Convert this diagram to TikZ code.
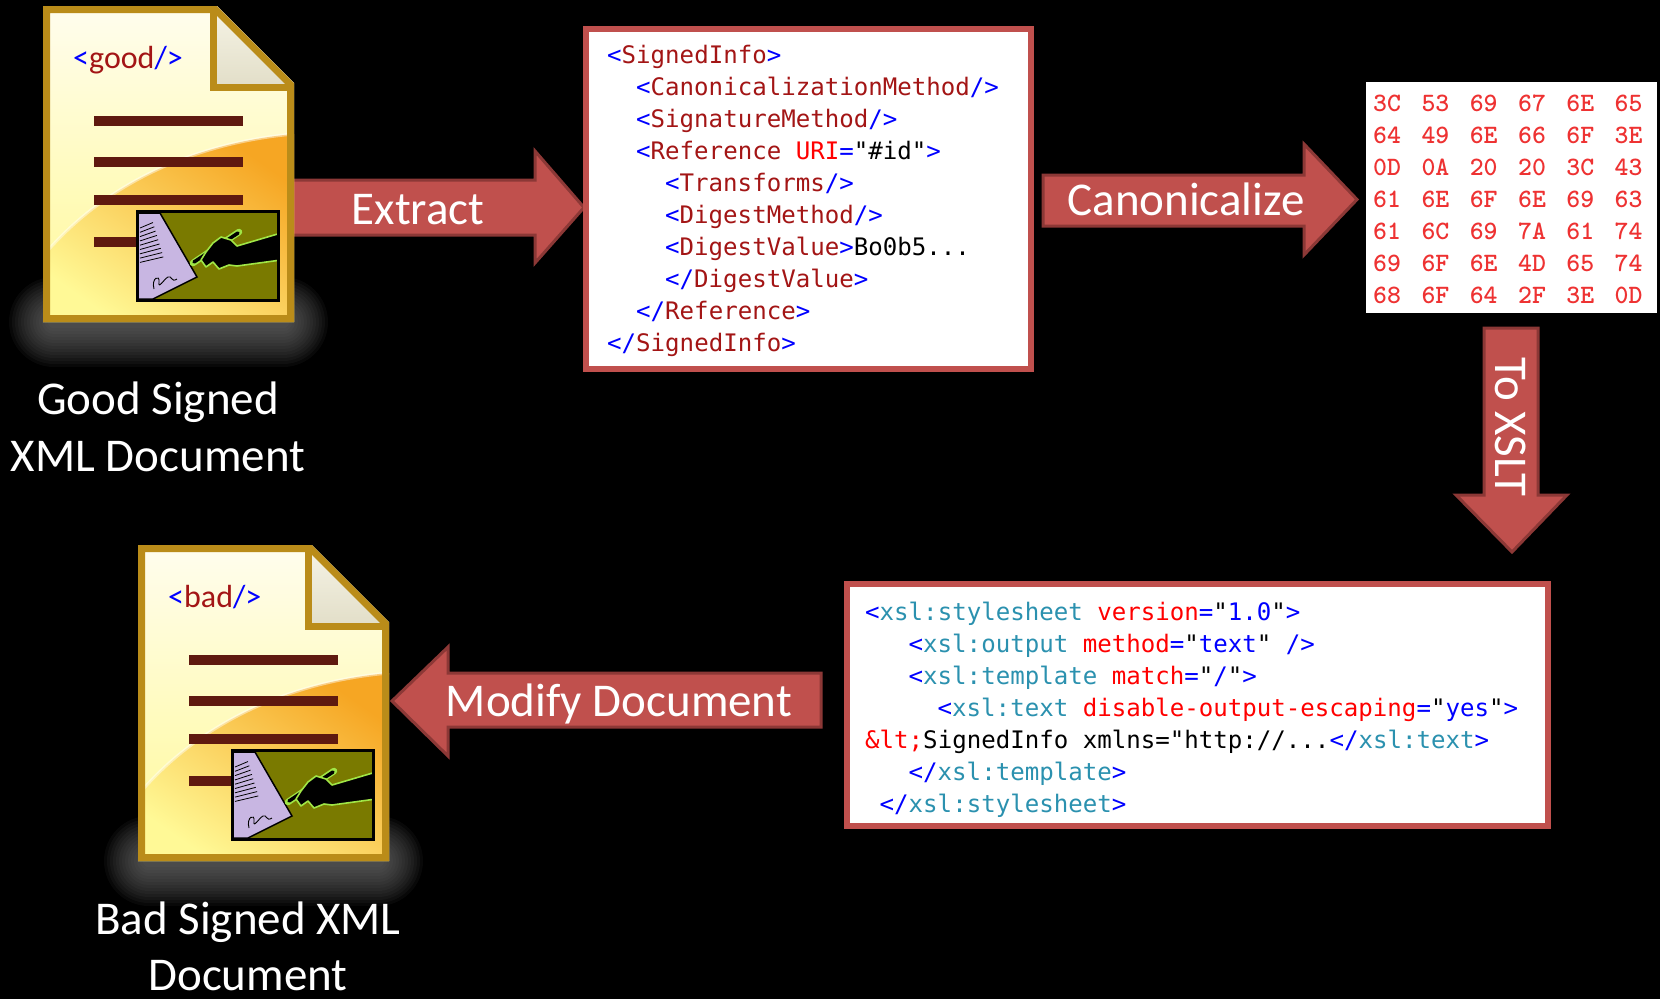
\documentclass[tikz,border=0pt]{standalone}
\usepackage{fontspec}
\setmainfont{Carlito}
\newfontfamily\codefont{DejaVu Sans Mono}[Ligatures=TeXOff]

\definecolor{arrowred}{RGB}{192,80,77}
\definecolor{arrowedge}{RGB}{140,56,54}
\definecolor{boxred}{RGB}{192,80,77}
\definecolor{docgold}{RGB}{186,140,25}
\definecolor{pagetop}{RGB}{255,253,238}
\definecolor{pagebot}{RGB}{255,249,150}
\definecolor{swoosh}{RGB}{246,166,35}
\definecolor{foldtop}{RGB}{246,244,230}
\definecolor{foldbot}{RGB}{226,222,200}
\definecolor{docline}{RGB}{95,25,15}
\definecolor{sigolive}{RGB}{122,122,0}
\definecolor{paperlav}{RGB}{200,182,226}
\definecolor{handgreen}{RGB}{160,230,70}
\definecolor{glow}{RGB}{125,125,125}
\definecolor{hexred}{RGB}{238,50,50}
\definecolor{mkblue}{RGB}{0,0,255}
\definecolor{elred}{RGB}{163,21,21}
\definecolor{atred}{RGB}{255,0,0}
\definecolor{xslteal}{RGB}{43,145,175}

% syntax colouring helpers
\newcommand\mkP[1]{\textcolor{mkblue}{#1}}
\newcommand\mkE[1]{\textcolor{elred}{#1}}
\newcommand\mkA[1]{\textcolor{atred}{#1}}
\newcommand\mkX[1]{\textcolor{xslteal}{#1}}
\newcommand\mkV[1]{\textcolor{mkblue}{#1}}

% soft glow under a document icon, built from stacked translucent layers
\newcommand\docglow[2]{%
\begin{scope}[shift={(#1,#2)}]
  \foreach \d in {0,3,...,39}
    \fill[glow, opacity=.07, rounded corners={\d+6}]
      ({5-\d},{310-\d}) rectangle ({246+\d},{322+\d});
\end{scope}
}

% yellow XML document icon with a signature picture
\newcommand\docicon[3]{%
\begin{scope}[shift={(#1,#2)}]
  \shade[top color=pagetop, bottom color=pagebot]
    (0,0) -- (174,0) -- (251,77) -- (251,316) -- (0,316) -- cycle;
  \begin{scope}
    \clip (0,0) -- (174,0) -- (251,77) -- (251,316) -- (0,316) -- cycle;
    \shade[top color=swoosh, bottom color=pagebot, shading angle=-35]
      (0,316) -- (0,250) .. controls (55,185) and (140,138) .. (251,128) -- (251,316) -- cycle;
    \draw[white, opacity=.45, line width=3]
      (0,250) .. controls (55,185) and (140,138) .. (251,128);
  \end{scope}
  \shade[top color=foldtop, bottom color=foldbot] (170,0) -- (251,81) -- (170,81) -- cycle;
  \draw[docgold, line width=7] (170,2) -- (170,81) -- (249,81);
  \draw[docgold, line width=7, line join=miter]
    (3.5,3.5) -- (172.5,3.5) -- (247.5,78.5) -- (247.5,312.5) -- (3.5,312.5) -- cycle;
  \foreach \yy in {115,156,194,236}
    \draw[docline, line width=10] (51,\yy) -- (200,\yy);
  \node[font=\fontsize{32}{38}\selectfont, anchor=base west, inner sep=0] (#3tag) at (30,62)
    {\textcolor{mkblue}{<}\textcolor{elred}{#3}\textcolor{mkblue}{/>}};
  % signature picture
  \begin{scope}
    \clip (94,205) rectangle (235,294);
    \fill[sigolive] (94,205) rectangle (235,294);
    \filldraw[fill=paperlav, draw=black, line width=1.5]
      (92,207) -- (117,207) -- (154,271) -- (110,293) -- (92,293) -- cycle;
    \foreach \k in {0,...,8}
      \draw[black, line width=.8] (97,{222+4.3*\k}) -- ({110+1.3*\k},{216.5+4.3*\k});
    \draw[black, line width=.9]
      (111,283) .. controls (108,272) and (117,268) .. (116,276)
      .. controls (115,284) and (121,273) .. (125,271)
      .. controls (129,269) and (128,277) .. (134,273);
    \draw[handgreen, line width=6.5, line cap=round] (150,257) -- (196,226);
    \draw[black, line width=3.5, line cap=round] (151,256) -- (195,227);
    \filldraw[fill=black, draw=handgreen, line width=1.6, line join=round]
      (238,227) -- (194,240) -- (188,234) -- (178,231) -- (170,237) -- (163,246)
      -- (158,254) -- (163,261) -- (170,256) -- (176,263) -- (186,259) -- (194,260)
      -- (238,254);
  \end{scope}
  \draw[black, line width=3] (94,205) rectangle (235,294);
\end{scope}
}

\tikzset{
  blockarrow/.style={fill=arrowred, draw=arrowedge, line width=3, line join=miter},
  codebox/.style={fill=white, draw=boxred, line width=6},
  code/.style={font={\codefont\fontsize{24.1}{29}\selectfont}, anchor=base west, inner sep=0},
  hex/.style={font={\ttfamily\bfseries\fontsize{26.5}{32}\selectfont}, text=hexred, anchor=base west, inner sep=0},
  doclabel/.style={font={\fontsize{47}{57}\selectfont}, text=white, anchor=base, inner sep=0},
  arrowlabel/.style={font={\fontsize{47}{57}\selectfont}, text=white, inner sep=0}
}

\begin{document}
\begin{tikzpicture}[x=1pt, y=-1pt]
  \useasboundingbox (0,0) rectangle (1660,999);
  \fill[black] (0,0) rectangle (1660,999);

  % glows under both documents
  \docglow{43}{6}
  \docglow{138}{545}

  % Extract arrow (runs behind the good document)
  \draw[blockarrow] (270,180) -- (535,180) -- (535,151) -- (584,207.5)
    -- (535,263) -- (535,235) -- (270,235) -- cycle;

  % documents
  \docicon{43}{6}{good}
  \docicon{138}{545}{bad}

  % SignedInfo box
  \draw[codebox] (586,29) rectangle (1031,369);
  \node[code] (si0) at (607,63)  {\mkP{<}\mkE{SignedInfo}\mkP{>}};
  \node[code] (si1) at (636,95)  {\mkP{<}\mkE{CanonicalizationMethod}\mkP{/>}};
  \node[code] (si2) at (636,127) {\mkP{<}\mkE{SignatureMethod}\mkP{/>}};
  \node[code] (si3) at (636,159) {\mkP{<}\mkE{Reference} \mkA{URI}\mkP{=}"\#id"\mkP{>}};
  \node[code] (si4) at (665,191) {\mkP{<}\mkE{Transforms}\mkP{/>}};
  \node[code] (si5) at (665,223) {\mkP{<}\mkE{DigestMethod}\mkP{/>}};
  \node[code] (si6) at (665,255) {\mkP{<}\mkE{DigestValue}\mkP{>}Bo0b5...};
  \node[code] (si7) at (665,287) {\mkP{</}\mkE{DigestValue}\mkP{>}};
  \node[code] (si8) at (636,319) {\mkP{</}\mkE{Reference}\mkP{>}};
  \node[code] (si9) at (607,351) {\mkP{</}\mkE{SignedInfo}\mkP{>}};

  % Canonicalize arrow
  \draw[blockarrow] (1043,175) -- (1304,175) -- (1304,144) -- (1357,199.5)
    -- (1304,255) -- (1304,226) -- (1043,226) -- cycle;

  % canonical bytes, one node per byte
  \fill[white] (1366,81.5) rectangle (1657,313);
  \foreach \row [count=\r from 0] in {%
      {3C,53,69,67,6E,65},{64,49,6E,66,6F,3E},{0D,0A,20,20,3C,43},%
      {61,6E,6F,6E,69,63},{61,6C,69,7A,61,74},{69,6F,6E,4D,65,74},%
      {68,6F,64,2F,3E,0D}}
    \foreach \tok [count=\c from 0] in \row
      \node[hex] (hx\r-\c) at ({1373+48.3*\c},{111+32*\r}) {\tok};

  % To XSLT arrow
  \draw[blockarrow] (1484,328) -- (1538,328) -- (1538,495) -- (1567,495)
    -- (1512,552) -- (1456,495) -- (1484,495) -- cycle;

  % XSLT box
  \draw[codebox] (847,584) rectangle (1548,826);
  \node[code] (xs0) at (865,620)   {\mkP{<}\mkX{xsl:stylesheet} \mkA{version}\mkP{=}"\mkV{1.0}"\mkP{>}};
  \node[code] (xs1) at (908.5,652) {\mkP{<}\mkX{xsl:output} \mkA{method}\mkP{=}"\mkV{text}" \mkP{/>}};
  \node[code] (xs2) at (908.5,684) {\mkP{<}\mkX{xsl:template} \mkA{match}\mkP{=}"\mkV{/}"\mkP{>}};
  \node[code] (xs3) at (937.5,716) {\mkP{<}\mkX{xsl:text} \mkA{disable-output-escaping}\mkP{=}"\mkV{yes}"\mkP{>}};
  \node[code] (xs4) at (865,748)   {\mkA{\&lt;}SignedInfo xmlns="http://...\mkP{</}\mkX{xsl:text}\mkP{>}};
  \node[code] (xs5) at (908.5,780) {\mkP{</}\mkX{xsl:template}\mkP{>}};
  \node[code] (xs6) at (879.5,812) {\mkP{</}\mkX{xsl:stylesheet}\mkP{>}};

  % Modify Document arrow
  \draw[blockarrow] (821,673) -- (448,673) -- (448,647) -- (392,701)
    -- (448,756) -- (448,727) -- (821,727) -- cycle;

  % arrow captions
  \node[arrowlabel, anchor=base] (extractlbl) at (418,224) {Extract};
  \node[arrowlabel, anchor=base] (canonlbl) at (1186,215) {Canonicalize};
  \node[arrowlabel, anchor=base] (modifylbl) at (619,716) {Modify Document};
  \node[arrowlabel, rotate=-90] (xsltlbl) at (1511,427) {To XSLT};

  % document captions
  \node[doclabel] (goodA) at (158,414) {Good Signed};
  \node[doclabel] (goodB) at (158,471) {XML Document};
  \node[doclabel] (badA) at (248,934) {Bad Signed XML};
  \node[doclabel] (badB) at (248,990) {Document};
\end{tikzpicture}
\end{document}
